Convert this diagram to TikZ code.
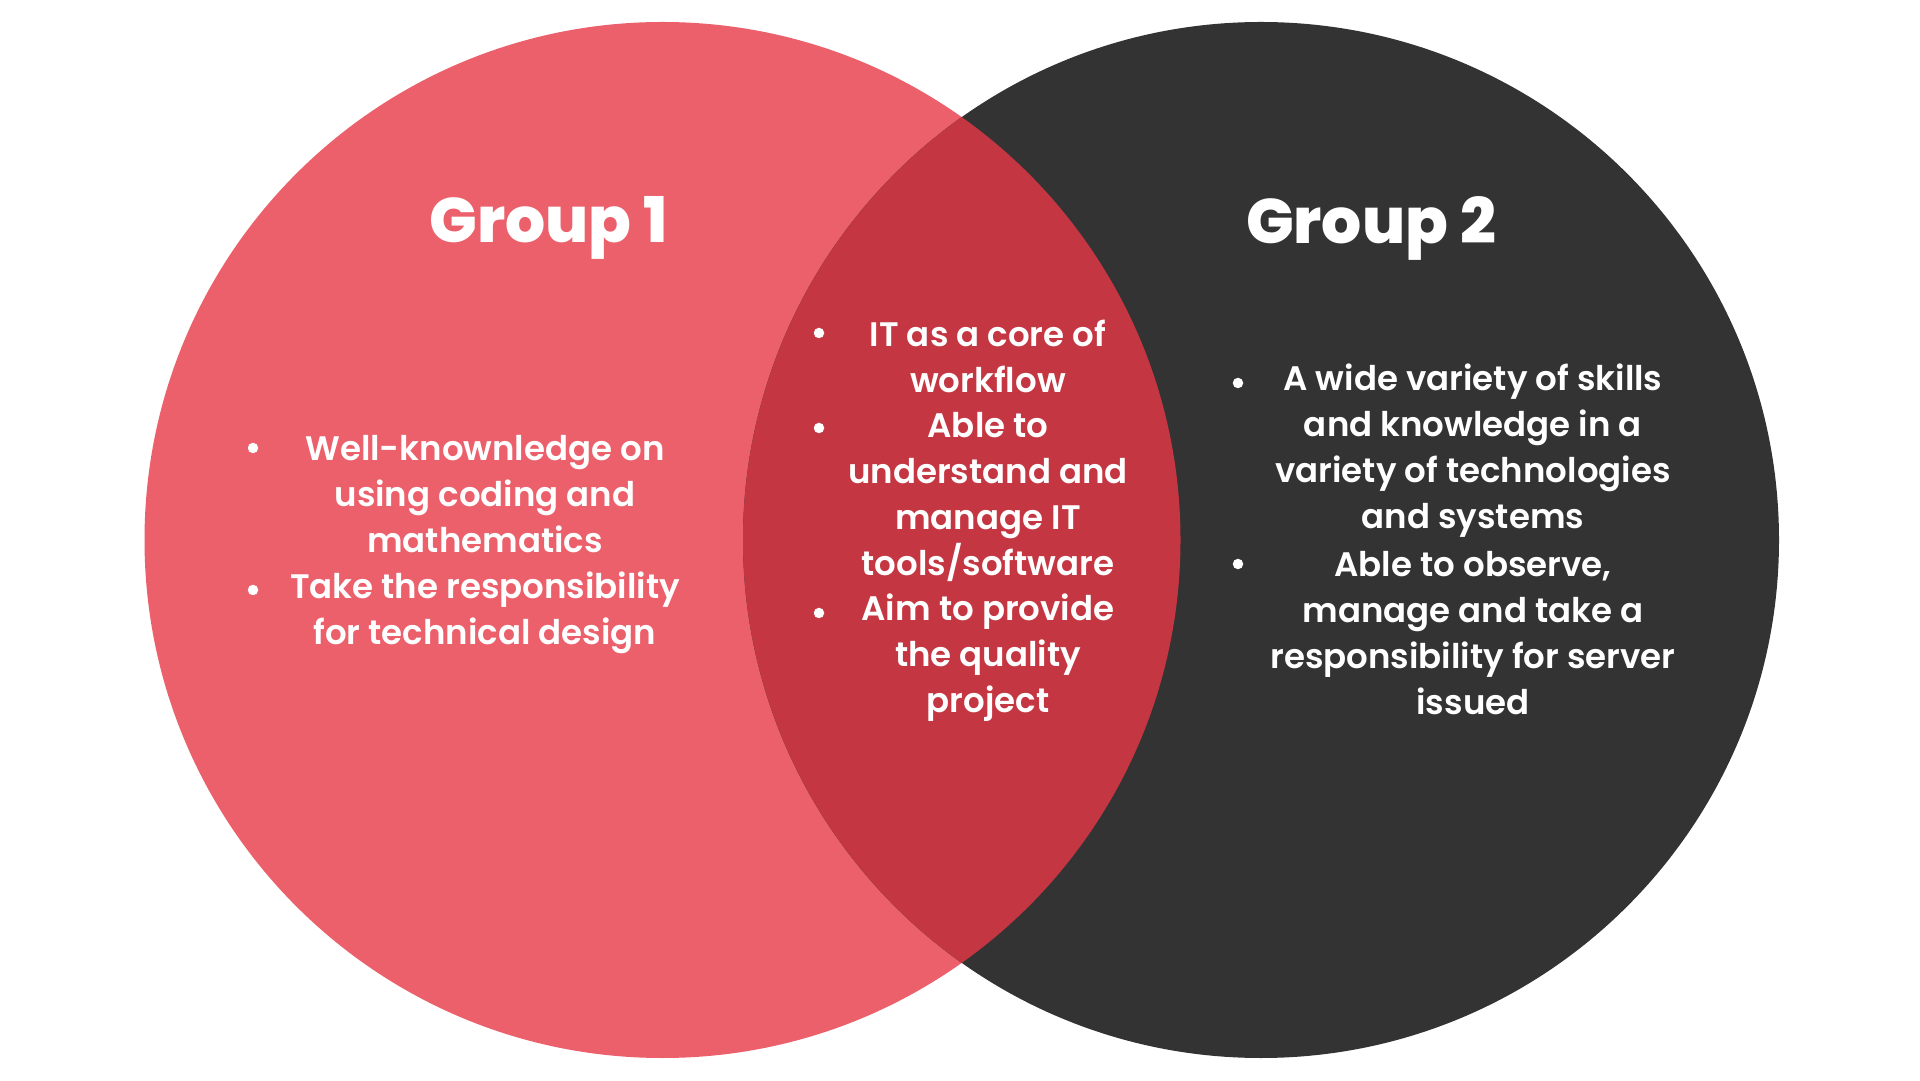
\documentclass[tikz,border=0pt]{standalone}
\usepackage{fontspec}
\setmainfont{Poppins}
\newfontfamily\bodyf{Poppins SemiBold}
\newfontfamily\titlef{Poppins ExtraBold}
\definecolor{gone}{HTML}{EB606B}
\definecolor{gtwo}{HTML}{333333}
\definecolor{gmid}{HTML}{C43742}
\tikzset{
  grouptitle/.style={text=white, font=\titlef\fontsize{63}{72}\selectfont, inner sep=0pt},
  item/.style={text=white, font=\bodyf\fontsize{34}{46}\selectfont, align=center, inner sep=0pt},
  bul/.style={circle, fill=white, minimum size=10.5pt, inner sep=0pt}
}
\begin{document}
\begin{tikzpicture}[x=1pt,y=1pt]
\useasboundingbox (0,0) rectangle (1920,1080);
\fill[white] (0,0) rectangle (1920,1080);
\coordinate (cL) at (662.5,540);
\coordinate (cR) at (1261,540);
\fill[gone] (cL) circle (518);
\fill[gtwo] (cR) circle (518);
\begin{scope}
  \clip (cL) circle (518);
  \fill[gmid] (cR) circle (518);
\end{scope}
% titles
\node[grouptitle] (t1) at (549,852) {Group 1};
\node[grouptitle] (t2) at (1371,852) {Group 2};
% left items
\node[bul] (bl1) at (253,632) {};
\node[item] (l1) at (485,586) {Well-knownledge on\\using coding and\\mathematics};
\node[bul] (bl2) at (253,490) {};
\node[item] (l2) at (485,467) {Take the responsibility\\for technical design};
% middle items
\node[bul] (bm1) at (819,747) {};
\node[item] (m1) at (988,724) {IT as a core of\\workflow};
\node[bul] (bm2) at (819,652) {};
\node[item] (m2) at (988,583) {Able to\\understand and\\manage IT\\tools/software};
\node[bul] (bm3) at (819,467) {};
\node[item] (m3) at (988,422) {Aim to provide\\the quality\\project};
% right items
\node[bul] (br1) at (1238,697) {};
\node[item] (r1) at (1473,629) {A wide variety of skills\\and knowledge in a\\variety of technologies\\and systems};
\node[bul] (br2) at (1238,516) {};
\node[item] (r2) at (1473,447) {Able to observe,\\manage and take a\\responsibility for server\\issued};
\end{tikzpicture}
\end{document}
